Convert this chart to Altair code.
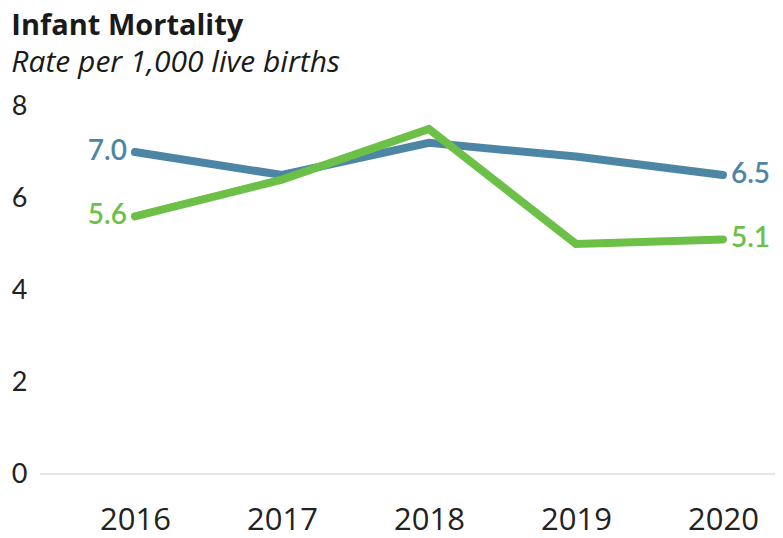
import altair as alt
import pandas as pd

years = [2016, 2017, 2018, 2019, 2020]
blue_vals = [7.0, 6.5, 7.2, 6.9, 6.5]
green_vals = [5.6, 6.4, 7.5, 5.0, 5.1]
series_names = ["Blue", "Green"]
colors = ["#4d86a5", "#6cbf47"]
y_ticks = [0, 2, 4, 6, 8]

rows = []
for y, b, g in zip(years, blue_vals, green_vals):
    rows.append({"year": y, "series": "Blue", "value": b})
    rows.append({"year": y, "series": "Green", "value": g})
df = pd.DataFrame(rows)

first = df[df.year == years[0]].copy()
last = df[df.year == years[-1]].copy()
first["label"] = first.value.map(lambda v: f"{v:.1f}")
last["label"] = last.value.map(lambda v: f"{v:.1f}")

x = alt.X("year:Q", scale=alt.Scale(domain=[2015.354, 2020.354], nice=False, zero=False),
          axis=alt.Axis(values=years, format="d", title=None, domain=False, ticks=False, grid=False,
                        labelFontSize=31, labelFont="Open Sans", labelColor="#222",
                        labelPadding=31))
y = alt.Y("value:Q", scale=alt.Scale(domain=[0, 8], nice=False),
          axis=alt.Axis(values=y_ticks, title=None, domain=False, ticks=False, grid=False,
                        labelFontSize=27, labelFont="Lato", labelColor="#222", labelPadding=13))
color = alt.Color("series:N", scale=alt.Scale(domain=series_names, range=colors), legend=None)

base_rule = alt.Chart(pd.DataFrame({"v": [0]})).mark_rule(color="#dcdcdc", strokeWidth=1.5).encode(y=alt.Y("v:Q", scale=alt.Scale(domain=[0, 8])))

lines = alt.Chart(df).mark_line(strokeWidth=8, strokeJoin="miter", strokeCap="round").encode(x=x, y=y, color=color)

left_labels = alt.Chart(first).mark_text(align="right", dx=-8, fontSize=28, font="Lato", fontWeight=600).encode(
    x="year:Q", y="value:Q", text="label:N", color=color)
right_labels = alt.Chart(last).mark_text(align="left", dx=8, fontSize=28, font="Lato", fontWeight=600).encode(
    x="year:Q", y="value:Q", text="label:N", color=color)

chart = alt.layer(base_rule, lines, left_labels, right_labels).properties(
    width=735, height=368,
    padding={"left": 32, "top": 98, "right": 0, "bottom": 66},
    autosize=alt.AutoSizeParams(type="none"),
    title=alt.TitleParams(text="Infant Mortality", subtitle="Rate per 1,000 live births",
                          anchor="start", offset=14, font="Open Sans", fontSize=29, fontWeight="bold",
                          color="#1a1a1a", subtitleFont="Open Sans", subtitleFontSize=30, subtitleFontStyle="italic",
                          subtitleColor="#1a1a1a", subtitlePadding=7)
).configure_view(stroke=None)

chart.save("out.html", embed_options={"renderer": "svg", "actions": False})
